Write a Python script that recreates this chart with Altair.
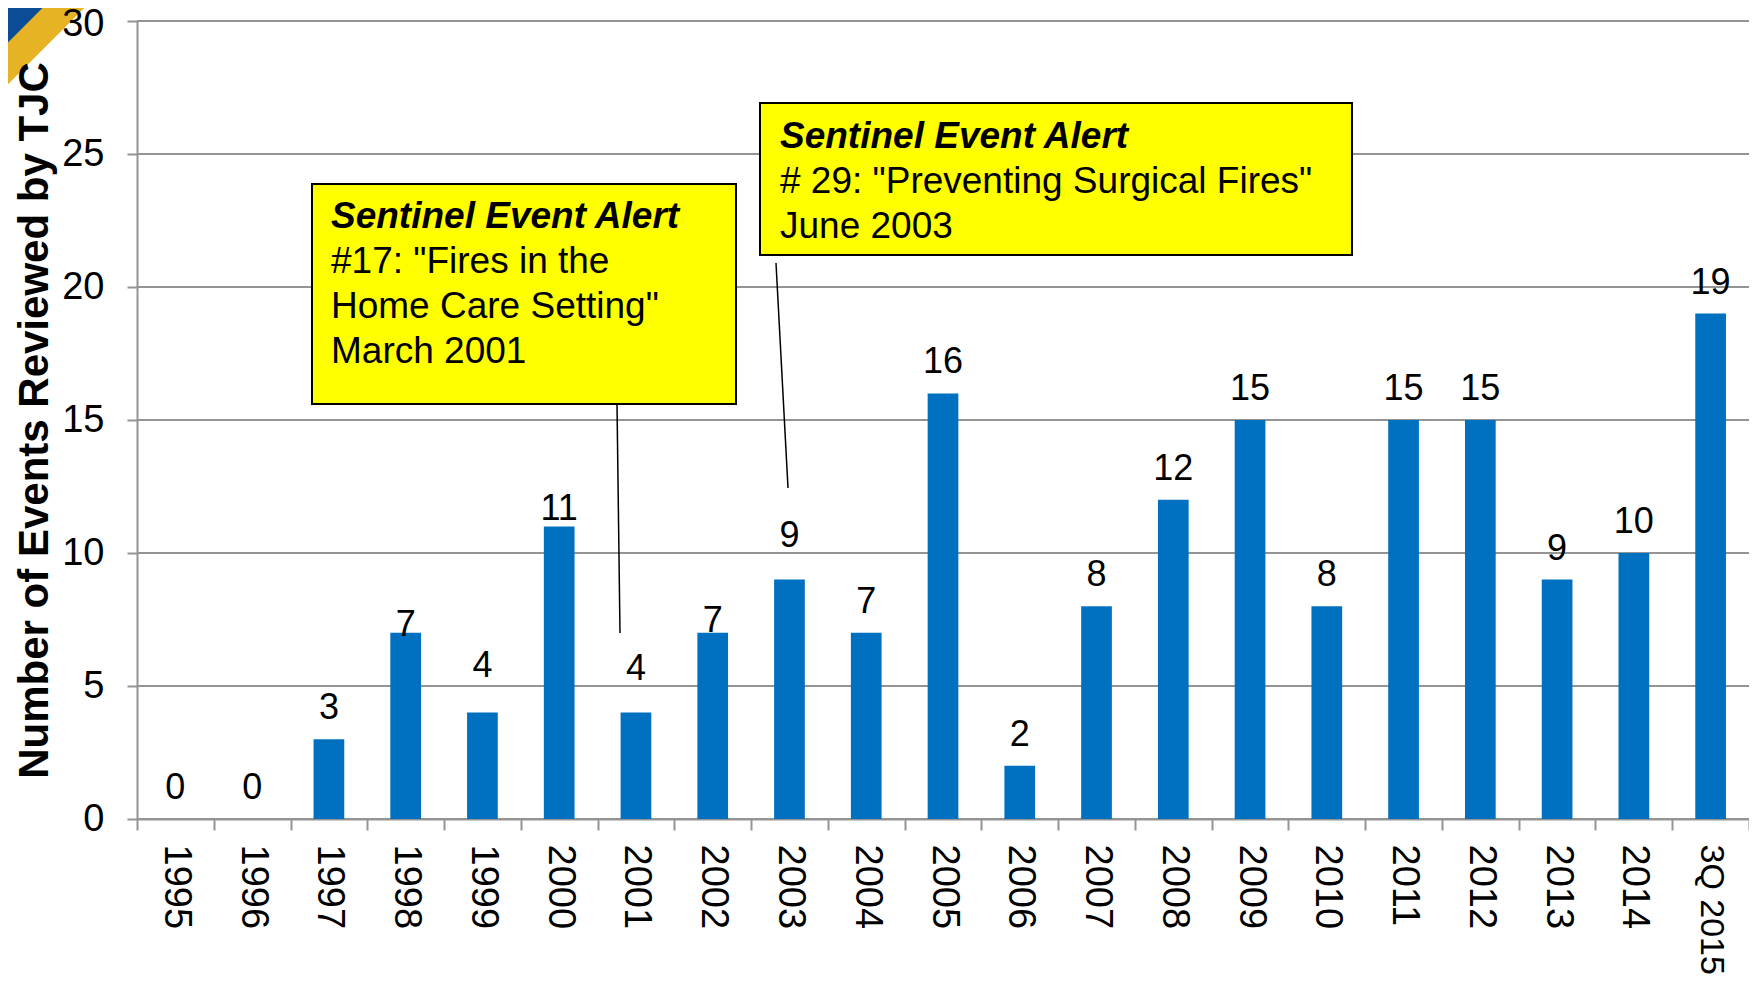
import altair as alt
import pandas as pd

# ---- data ----
years = ["1995", "1996", "1997", "1998", "1999", "2000", "2001", "2002", "2003",
         "2004", "2005", "2006", "2007", "2008", "2009", "2010", "2011", "2012",
         "2013", "2014", "3Q 2015"]
values = [0, 0, 3, 7, 4, 11, 4, 7, 9, 7, 16, 2, 8, 12, 15, 8, 15, 15, 9, 10, 19]

y_ticks = [0, 5, 10, 15, 20, 25, 30]
y_title = "Number of Events Reviewed by TJC"

box1_head = "Sentinel Event Alert"
box1_lines = ['#17: "Fires in the', 'Home Care Setting"', "March 2001"]
box2_head = "Sentinel Event Alert"
box2_lines = ['# 29: "Preventing Surgical Fires"', "June 2003"]

# ---- styling ----
W, H = 1612, 798
PX_PER_UNIT = H / 30.0
label_gap_px = [20, 20, 20, -3, 36, 6, 33, 1, 33, 20, 20, 20, 20, 20, 20, 20, 20, 20, 20, 20, 20]
FONT = "Liberation Sans"
GRID = "#949494"
BAR = "#0070C0"

df = pd.DataFrame({"year": years, "value": values})
df["label_pos"] = [v + g / PX_PER_UNIT for v, g in zip(values, label_gap_px)]
grid_df = pd.DataFrame({"v": y_ticks})

x_scale = alt.Scale(paddingInner=0, paddingOuter=0)
y_scale = alt.Scale(domain=[0, 30], nice=False)

x_enc = alt.X(
    "year:N",
    sort=years,
    scale=x_scale,
    axis=alt.Axis(
        title=None, labelAngle=90, labelFont=FONT, labelColor="black",
        labelFontSize={"condition": {"test": "datum.label == '3Q 2015'", "value": 34}, "value": 38},
        tickBand="extent", tickSize=11, tickColor=GRID, tickWidth=2,
        domainColor=GRID, domainWidth=2, labelPadding=14, labelOverlap=False,
    ),
)

y_axis = alt.Axis(
    values=y_ticks, grid=False, zindex=1,
    domainColor=GRID, domainWidth=2, tickColor=GRID, tickWidth=2, tickSize=10,
    labelFontSize=38, labelFont=FONT, labelColor="black", labelPadding=23,
    labelOffset={"condition": {"test": "datum.value == 30", "value": 3}, "value": 0},
    title=y_title, titleFontSize=42, titleFont=FONT, titleFontWeight="bold",
    titleColor="black", titleAngle=270, titleBaseline="alphabetic",
    titleAlign="center", titleX=-90, titleY=H / 2,
)

grid = alt.Chart(grid_df).mark_rule(color=GRID, strokeWidth=2).encode(
    y=alt.Y("v:Q", scale=y_scale, axis=y_axis)
)

bars = alt.Chart(df).mark_bar(color=BAR, width={"band": 0.4}).encode(
    x=x_enc,
    y=alt.Y("value:Q", scale=y_scale, axis=y_axis),
)

labels = alt.Chart(df).mark_text(
    fontSize=36, font=FONT, color="black", baseline="alphabetic", align="center"
).encode(
    x=alt.X("year:N", sort=years),
    y=alt.Y("label_pos:Q", scale=y_scale, axis=y_axis),
    text=alt.Text("value:Q"),
)

one = pd.DataFrame({"k": [0]})

def rule(x1, y1, x2, y2, color="black", width=1.5):
    return alt.Chart(one).mark_rule(color=color, strokeWidth=width, strokeCap="butt").encode(
        x=alt.value(x1), y=alt.value(y1), x2=alt.value(x2), y2=alt.value(y2)
    )

def box(x1, y1, x2, y2):
    return alt.Chart(one).mark_rect(color="#FFFF00", stroke="black", strokeWidth=2).encode(
        x=alt.value(x1), y=alt.value(y1), x2=alt.value(x2), y2=alt.value(y2)
    )

def txt(x, y, t, bold=False):
    kw = dict(fontSize=37, font=FONT, color="black", align="left", baseline="alphabetic",
              lineHeight=45)
    if bold:
        kw.update(fontWeight="bold", fontStyle="italic")
    return alt.Chart(one).mark_text(**kw).encode(
        x=alt.value(x), y=alt.value(y), text=alt.value(t)
    )

# corner ribbon decoration
ribbon_blue = rule(-147, 14, -102, -31, color="#0B4C97", width=36)
ribbon_yellow = rule(-147, 60, -56, -31, color="#E5B323", width=30)

lead1 = rule(480, 383, 483, 612)
lead2 = rule(639, 242, 651, 467)

b1 = box(175, 163, 599, 383)
b2 = box(623, 82, 1215, 234)
t1h = txt(194, 207, box1_head, bold=True)
t1 = txt(194, 252, box1_lines)
t2h = txt(643, 127, box2_head, bold=True)
t2 = txt(643, 172, box2_lines)

chart = alt.layer(
    ribbon_yellow, ribbon_blue, grid, bars, labels, lead1, lead2, b1, b2, t1h, t1, t2h, t2
).properties(
    width=W, height=H,
    padding={"left": 129, "top": 13, "right": 0, "bottom": 155},
    autosize=alt.AutoSizeParams(type="none"),
).configure_view(stroke=None).configure(font=FONT)

chart.save("out.html", embed_options={"renderer": "svg", "actions": False})
